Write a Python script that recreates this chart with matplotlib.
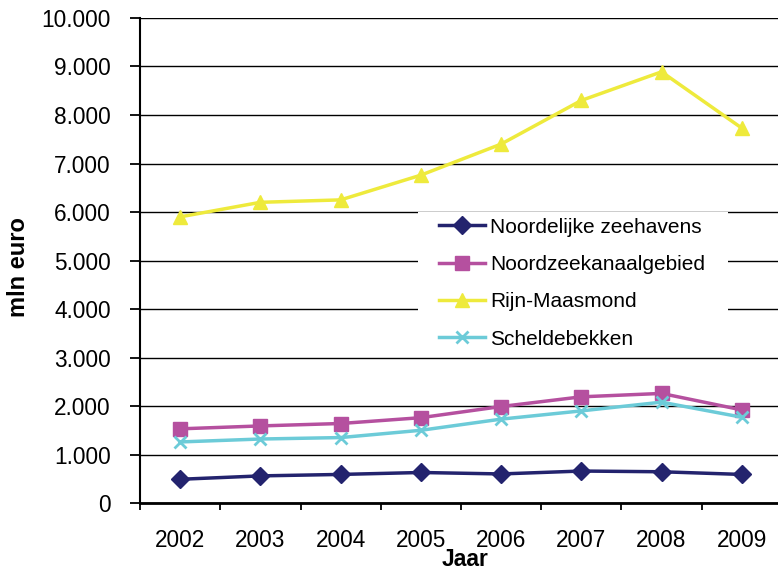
import matplotlib.pyplot as plt
from matplotlib.patches import Rectangle
from matplotlib.ticker import FixedLocator, FuncFormatter

plt.rcParams['font.family'] = ['Liberation Sans', 'DejaVu Sans']

years = ['2002', '2003', '2004', '2005', '2006', '2007', '2008', '2009']
noordelijke = [490, 560, 590, 630, 600, 660, 645, 590]
noordzeekanaal = [1530, 1590, 1640, 1760, 1990, 2190, 2260, 1920]
rijn_maasmond = [5900, 6200, 6250, 6760, 7400, 8300, 8890, 7730]
scheldebekken = [1260, 1320, 1350, 1500, 1730, 1900, 2080, 1770]

series = [
    ('Noordelijke zeehavens', noordelijke, '#23236e', 'D', 9),
    ('Noordzeekanaalgebied', noordzeekanaal, '#b5509f', 's', 9.5),
    ('Rijn-Maasmond', rijn_maasmond, '#eeea3c', '^', 10),
    ('Scheldebekken', scheldebekken, '#6ccbd8', 'x', 9),
]

fig = plt.figure(figsize=(7.78, 5.71), dpi=100)
ax = fig.add_axes([0.18, 0.119, 0.825, 0.8495])

x = list(range(len(years)))
for label, vals, color, marker, ms in series:
    ax.plot(x, vals, color=color, linewidth=2.5, marker=marker, markersize=ms,
            markeredgewidth=2 if marker == 'x' else 1, label=label, zorder=3)

ax.set_ylim(0, 10000)
ax.set_xlim(-0.5, len(years) - 0.5)
ax.yaxis.set_major_locator(FixedLocator(range(0, 10001, 1000)))
ax.yaxis.set_major_formatter(FuncFormatter(lambda v, p: f'{int(v):,}'.replace(',', '.')))
ax.grid(axis='y', color='black', linewidth=1.0, zorder=0)

ax.set_xticks([i - 0.5 for i in range(len(years) + 1)])
ax.set_xticklabels([])
ax.set_xticks(x, minor=True)
ax.set_xticklabels(years, minor=True)
ax.tick_params(axis='x', which='major', direction='out', length=5, width=1.3)
ax.tick_params(axis='x', which='minor', length=0, pad=19, labelsize=16.3)
ax.tick_params(axis='y', direction='out', length=7, width=1.3, pad=14, labelsize=16.3)

for side in ['top', 'right']:
    ax.spines[side].set_visible(False)
ax.spines['left'].set_linewidth(1.5)
ax.spines['bottom'].set_linewidth(2)

ax.set_ylabel('mln euro', fontsize=17, fontweight='bold')
ax.yaxis.set_label_coords(-0.172, 0.487)
ax.set_xlabel('Jaar', fontsize=16.5, fontweight='bold')
ax.xaxis.set_label_coords(0.506, -0.092)

# white legend area (hides the gridlines behind the legend)
ax.add_patch(Rectangle((0.433, 0.302), 0.483, 0.298, transform=ax.transAxes,
                       facecolor='white', edgecolor='none', zorder=2))
leg = ax.legend(loc='upper left', bbox_to_anchor=(0.46, 0.597), fontsize=15,
                frameon=False, borderaxespad=0, labelspacing=0.88,
                handlelength=2.2, handletextpad=0.25, borderpad=0.2)
leg.set_zorder(5)

fig.savefig('out.png', dpi=100)
